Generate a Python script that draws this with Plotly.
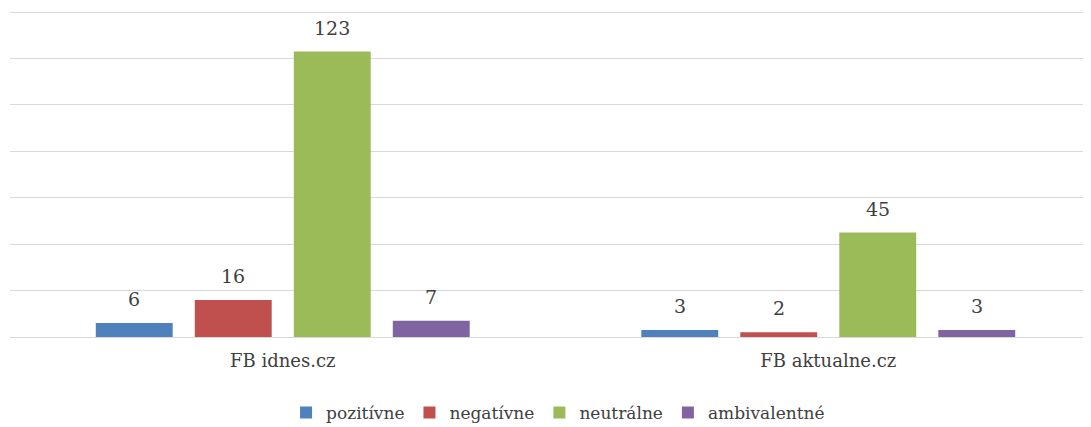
import plotly.graph_objects as go

categories = ["FB idnes.cz", "FB aktualne.cz"]
series_names = ["pozitívne", "negatívne", "neutrálne", "ambivalentné"]
values = {
    "pozitívne": [6, 3],
    "negatívne": [16, 2],
    "neutrálne": [123, 45],
    "ambivalentné": [7, 3],
}
colors = ["#4F81BD", "#C0504D", "#9BBB59", "#8064A2"]

pitch = 0.1815   # bar pitch in category units
bw = 0.141       # bar width in category units
serif = "DejaVu Serif"
text_color = "#404040"

fig = go.Figure()
n = len(series_names)
for j, name in enumerate(series_names):
    xs = [i + (j - (n - 1) / 2) * pitch for i in range(len(categories))]
    fig.add_trace(go.Bar(
        x=xs, y=values[name], width=bw, name=name,
        marker=dict(color=colors[j], line=dict(width=0)),
    ))
    for x, v in zip(xs, values[name]):
        fig.add_annotation(x=x, y=v, text=str(v), showarrow=False,
                           yanchor="bottom", yshift=11,
                           font=dict(family=serif, size=19, color=text_color))

fig.update_layout(
    width=1083, height=427,
    margin=dict(l=2, r=0, t=3, b=98),
    paper_bgcolor="white", plot_bgcolor="white",
    font=dict(family=serif, size=18, color=text_color),
    showlegend=True,
    legend=dict(orientation="h", x=0.507, xanchor="center", y=-0.233, yanchor="middle",
                font=dict(family=serif, size=17, color=text_color),
                itemwidth=30, tracegroupgap=0),
    xaxis=dict(range=[-0.5, -0.5 + 1081 / 545.5], tickvals=list(range(len(categories))),
               ticktext=categories, showgrid=False, zeroline=False, ticks="",
               ticklabelstandoff=11,
               tickfont=dict(family=serif, size=18, color=text_color)),
    yaxis=dict(range=[0, 140.5], tickvals=[20, 40, 60, 80, 100, 120, 140],
               showticklabels=False, showgrid=True,
               gridcolor="#D9D9D9", gridwidth=1.3, zeroline=True,
               zerolinecolor="#D9D9D9", zerolinewidth=1.3),
)

fig.write_html("out.html")
